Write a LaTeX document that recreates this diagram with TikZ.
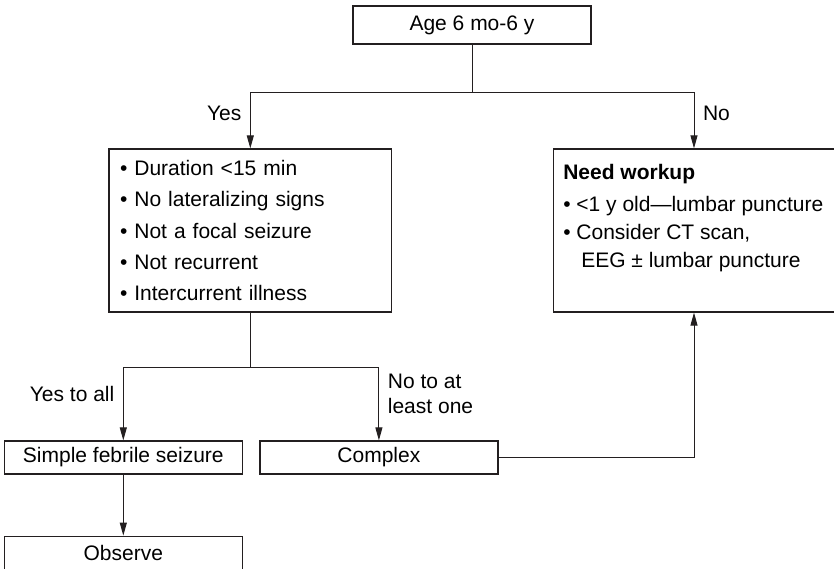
\documentclass[tikz,border=0pt]{standalone}
\usepackage{fontspec}
\setmainfont{Liberation Sans}
\usepackage{tikz}
\usetikzlibrary{arrows.meta, positioning}
\definecolor{trazo}{RGB}{35,31,32}
\tikzset{
  caja/.style={rectangle, draw=trazo, line width=1.2pt, inner sep=0pt,
    minimum height=33pt, minimum width=238pt, align=center,
    font=\fontsize{21}{25}\selectfont},
  lista/.style={caja, minimum height=163pt, text width=260.5pt,
    inner xsep=11pt, align=left, font=\fontsize{21}{31.3}\selectfont},
  flecha/.style={-{Triangle[length=13pt, width=7pt]}, line width=1pt, draw=trazo},
  linea/.style={line width=1pt, draw=trazo},
  etiq/.style={font=\fontsize{21}{25}\selectfont, inner sep=8.5pt, align=left}
}
\begin{document}
\begin{tikzpicture}[x=1pt, y=-1pt]
  \useasboundingbox (0,0) rectangle (834,569);
  \node[caja, minimum height=38pt] (edad) at (472,25) {Age 6 mo-6 y};
  \node[lista] (crit) at (250.3,230.5)
    {• Duration <15 min\\• No lateralizing signs\\• Not a focal seizure\\%
     • Not recurrent\\• Intercurrent illness};
  \node[caja, right=161pt of crit, minimum height=163pt, minimum width=280.5pt,
    inner xsep=9.5pt, inner ysep=15.3pt, align=left] (work)
    {\parbox[c][132.4pt][t]{261.5pt}{\fontsize{21}{28}\selectfont
     \textbf{Need workup}\\[4pt]
     \mbox{• <1 y old—lumbar puncture}\\
     • Consider CT scan,\\
     \hspace*{18pt}EEG ± lumbar puncture}};
  \node[caja] (simple) at (123.3,457.5) {Simple febrile seizure};
  \node[caja, right=16.4pt of simple] (complex) {Complex};
  \node[caja, below=61pt of simple] (observe) {Observe};
  \draw[linea] (edad.south) -- ++(0,-48pt) coordinate (bif1);
  \draw[flecha] (bif1) -| node[etiq, pos=0.69, left]{Yes} (crit.north);
  \draw[flecha] (bif1) -| node[etiq, pos=0.69, right]{No} (work.north);
  \draw[linea] (crit.south) -- ++(0,-55pt) coordinate (bif2);
  \draw[flecha] (bif2) -| node[etiq, pos=0.68, left]{Yes to all} (simple.north);
  \draw[flecha] (bif2) -| node[etiq, pos=0.68, right]{No to at\\least one} (complex.north);
  \draw[flecha] (simple) -- (observe);
  \draw[flecha] (complex.east) -| (work.south);
\end{tikzpicture}
\end{document}
